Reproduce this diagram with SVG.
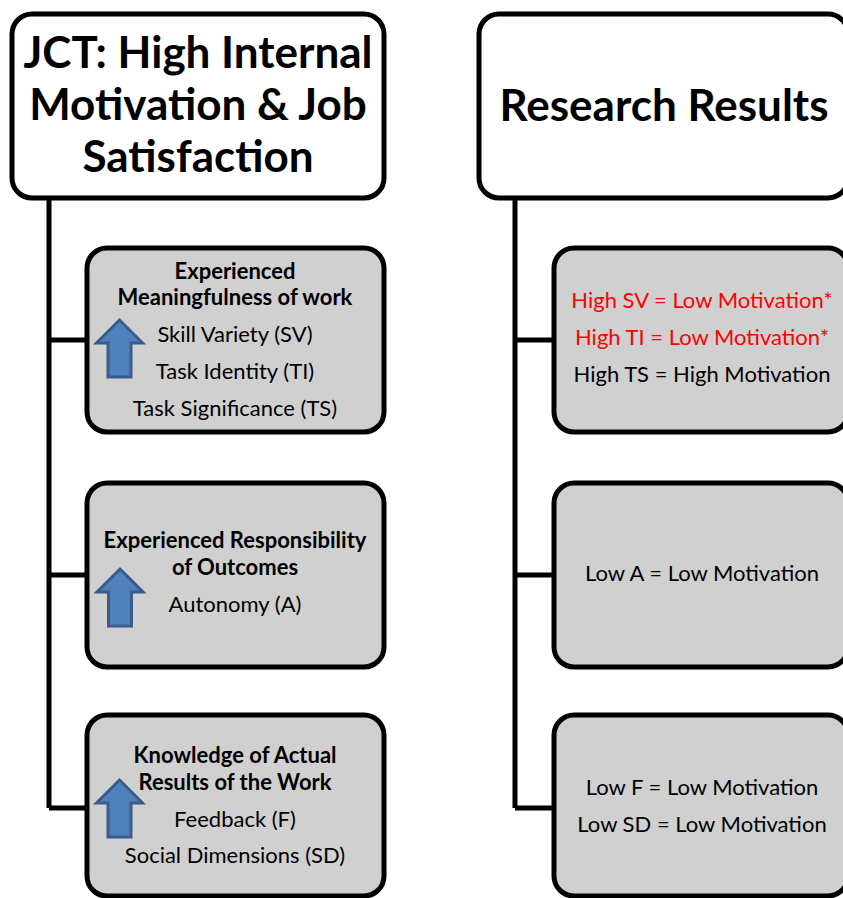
<svg xmlns="http://www.w3.org/2000/svg" width="843" height="898" viewBox="0 0 843 898">
  <defs>
    <style>
      text { font-family: Lato, "Open Sans", "Liberation Sans", sans-serif; text-anchor: middle; fill: #000; }
      .hdr { fill: #fff; stroke: #000; stroke-width: 5; }
      .box { fill: #d0d0d0; stroke: #000; stroke-width: 5; }
      .title { font-size: 44px; font-weight: bold; }
      .head { font-size: 22px; font-weight: bold; }
      .item { font-size: 22px; }
      .red { fill: #ff0000; }
      .wire { fill: none; stroke: #000; stroke-width: 5; }
      .up { fill: #4f81bd; stroke: #385d8a; stroke-width: 3; }
    </style>
    <!-- upward block arrow, origin at the tip -->
    <path id="uparrow" class="up" d="M0,0 L23,23 L11.5,23 L11.5,57 L-11.5,57 L-11.5,23 L-23,23 Z"/>
  </defs>

  <g id="connectors">
    <path class="wire" d="M49,198 V808 M49,340 H87 M49,575 H87 M49,808 H87"/>
    <path class="wire" d="M515,198 V808 M515,340 H554 M515,575 H554 M515,808 H554"/>
  </g>

  <g id="jct-header">
    <rect class="hdr" x="12" y="14" width="372" height="184" rx="20"/>
    <text class="title" x="198" y="68">JCT: High Internal</text>
    <text class="title" x="198" y="120">Motivation &amp; Job</text>
    <text class="title" x="198" y="172">Satisfaction</text>
  </g>

  <g id="meaningfulness">
    <rect class="box" x="87" y="248" width="297" height="184" rx="20"/>
    <use href="#uparrow" x="119.5" y="320"/>
    <text class="head" x="235" y="279">Experienced</text>
    <text class="head" x="235" y="305">Meaningfulness of work</text>
    <text class="item" x="235" y="342">Skill Variety (SV)</text>
    <text class="item" x="235" y="379">Task Identity (TI)</text>
    <text class="item" x="235" y="416">Task Significance (TS)</text>
  </g>

  <g id="responsibility">
    <rect class="box" x="87" y="483" width="297" height="184" rx="20"/>
    <use href="#uparrow" x="120" y="569"/>
    <text class="head" x="235" y="548">Experienced Responsibility</text>
    <text class="head" x="235" y="575">of Outcomes</text>
    <text class="item" x="235" y="612">Autonomy (A)</text>
  </g>

  <g id="knowledge">
    <rect class="box" x="87" y="715" width="297" height="181" rx="20"/>
    <use href="#uparrow" x="119.5" y="780"/>
    <text class="head" x="235" y="763">Knowledge of Actual</text>
    <text class="head" x="235" y="790">Results of the Work</text>
    <text class="item" x="235" y="827">Feedback (F)</text>
    <text class="item" x="235" y="863">Social Dimensions (SD)</text>
  </g>

  <g id="results-header">
    <rect class="hdr" x="479" y="14" width="369" height="184" rx="20"/>
    <text class="title" x="664" y="121">Research Results</text>
  </g>

  <g id="result-meaningfulness">
    <rect class="box" x="554" y="248" width="294" height="184" rx="20"/>
    <text class="item red" x="702" y="308">High SV = Low Motivation*</text>
    <text class="item red" x="702" y="345">High TI = Low Motivation*</text>
    <text class="item" x="702" y="382">High TS = High Motivation</text>
  </g>

  <g id="result-responsibility">
    <rect class="box" x="554" y="483" width="294" height="184" rx="20"/>
    <text class="item" x="702" y="581">Low A = Low Motivation</text>
  </g>

  <g id="result-knowledge">
    <rect class="box" x="554" y="715" width="294" height="181" rx="20"/>
    <text class="item" x="702" y="795">Low F = Low Motivation</text>
    <text class="item" x="702" y="832">Low SD = Low Motivation</text>
  </g>
</svg>
